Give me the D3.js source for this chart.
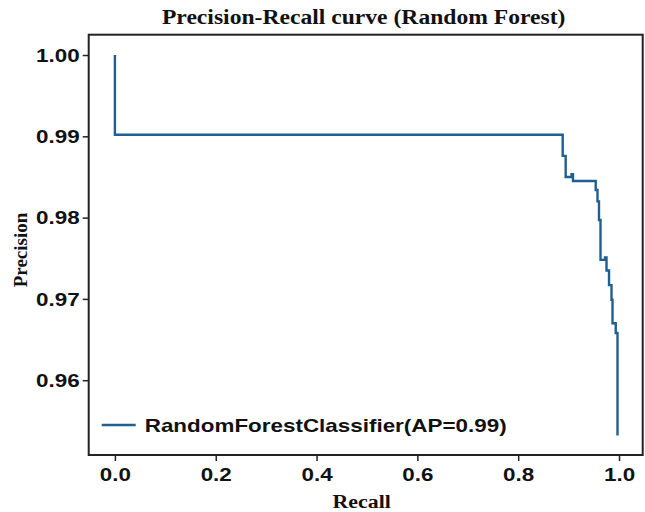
<!DOCTYPE html>
<html>
<head>
<meta charset="utf-8">
<script src="https://cdn.jsdelivr.net/npm/d3@7"></script>
<style>
  html, body { margin: 0; padding: 0; background: #fff; }
  svg { display: block; }
</style>
</head>
<body>
<div id="chart"></div>
<script>
// operating points (drawn as steps-post)
const recall = [0, 0, 0.8883, 0.8942, 0.9058, 0.9087, 0.9538, 0.9573, 0.9603, 0.9633,
  0.9722, 0.9752, 0.9802, 0.9851, 0.9871, 0.9935, 0.9970];
const precision = [1.0, 0.9902, 0.9876, 0.9850, 0.98535, 0.9845, 0.9834, 0.9820, 0.9797, 0.9748,
  0.9751, 0.9735, 0.9717, 0.9699, 0.9670, 0.9658, 0.9532];
const xTicks = [0.0, 0.2, 0.4, 0.6, 0.8, 1.0];
const yTicks = [0.96, 0.97, 0.98, 0.99, 1.00];
const seriesName = "RandomForestClassifier(AP=0.99)";

const W = 645, H = 512;
const margin = { top: 34.7, right: 2.3, bottom: 57, left: 88.7 };
const width = W - margin.left - margin.right;
const height = H - margin.top - margin.bottom;
const stretchK = 1.18; // the picture is a bit wider than tall

const svg = d3.select("#chart").append("svg")
  .attr("width", W).attr("height", H);

const g = svg.append("g")
  .attr("transform", `translate(${margin.left},${margin.top})`);

const x = d3.scaleLinear().domain([-0.052, 1.047]).range([0, width]);
const y = d3.scaleLinear().domain([0.9508, 1.0025]).range([height, 0]);

function stretch(sel) {
  sel.each(function () {
    const w = this.getComputedTextLength();
    d3.select(this).attr("textLength", w * stretchK).attr("lengthAdjust", "spacingAndGlyphs");
  });
}

// axes
const xAxis = g.append("g")
  .attr("transform", `translate(0,${height})`)
  .call(d3.axisBottom(x).tickValues(xTicks).tickFormat(d3.format(".1f")).tickSize(6).tickPadding(7));
const yAxis = g.append("g")
  .call(d3.axisLeft(y).tickValues(yTicks).tickFormat(d3.format(".2f")).tickSize(6).tickPadding(3));

[xAxis, yAxis].forEach(ax => {
  ax.select(".domain").remove();
  ax.selectAll(".tick line").attr("stroke", "#222").attr("stroke-width", 1.5);
  ax.selectAll(".tick text")
    .attr("fill", "#111")
    .style("font-family", "'Liberation Sans', Arial, sans-serif")
    .style("font-weight", "bold")
    .style("font-size", "19px")
    .call(stretch);
});

// frame
g.append("rect")
  .attr("width", width).attr("height", height)
  .attr("fill", "none").attr("stroke", "#222").attr("stroke-width", 2);

// curve
const pts = recall.map((r, i) => [r, precision[i]]);
const line = d3.line()
  .x(d => x(d[0]))
  .y(d => y(d[1]))
  .curve(d3.curveStepAfter);

g.append("path")
  .datum(pts)
  .attr("fill", "none")
  .attr("stroke", "#1f5f91")
  .attr("stroke-width", 2.4)
  .attr("d", line);

// legend
const leg = g.append("g").attr("transform", `translate(13,${425 - margin.top})`);
leg.append("line")
  .attr("x1", 0).attr("x2", 34)
  .attr("stroke", "#1f5f91").attr("stroke-width", 2.6);
leg.append("text")
  .attr("x", 43).attr("y", 7)
  .attr("fill", "#111")
  .style("font-family", "'Liberation Sans', Arial, sans-serif")
  .style("font-weight", "bold")
  .style("font-size", "19px")
  .text(seriesName)
  .call(stretch);

// title and axis labels
svg.append("text")
  .attr("x", margin.left + width / 2 - 2).attr("y", 24)
  .attr("text-anchor", "middle")
  .attr("fill", "#111")
  .style("font-family", "'Liberation Serif', 'Times New Roman', serif")
  .style("font-weight", "bold")
  .style("font-size", "20px")
  .text("Precision-Recall curve (Random Forest)")
  .call(stretch);

svg.append("text")
  .attr("x", margin.left + width / 2 - 4).attr("y", 508)
  .attr("text-anchor", "middle")
  .attr("fill", "#111")
  .style("font-family", "'Liberation Serif', 'Times New Roman', serif")
  .style("font-weight", "bold")
  .style("font-size", "18.5px")
  .text("Recall")
  .call(stretch);

svg.append("text")
  .attr("transform", `translate(27,250) rotate(-90)`)
  .attr("text-anchor", "middle")
  .attr("fill", "#111")
  .style("font-family", "'Liberation Serif', 'Times New Roman', serif")
  .style("font-weight", "bold")
  .style("font-size", "19px")
  .text("Precision");
</script>
</body>
</html>
